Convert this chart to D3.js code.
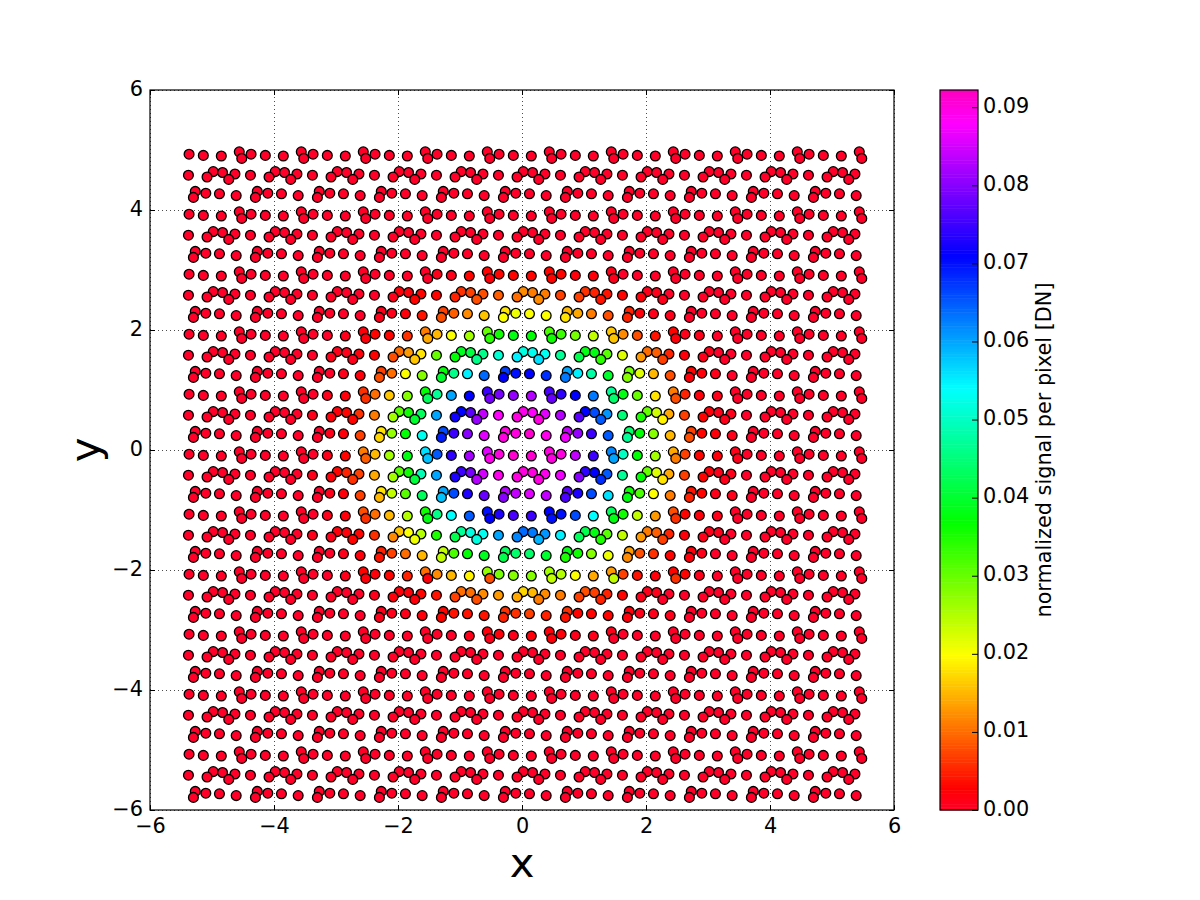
<!DOCTYPE html>
<html>
<head>
<meta charset="utf-8">
<script src="https://cdn.jsdelivr.net/npm/d3@7"></script>
<style>
body { margin: 0; background: #fff; }
text { font-family: "DejaVu Sans", sans-serif; fill: #000; }
</style>
</head>
<body>
<div id="root"></div>
<script>
// row heights, top to bottom (rows come in threes: A, B, C)
var rowY = [4.93,4.58,4.27,3.93,3.58,3.27,2.93,2.58,2.27,1.93,1.58,1.27,0.93,0.58,0.27,
	-0.07,-0.42,-0.73,-1.07,-1.42,-1.73,-2.07,-2.42,-2.73,-3.07,-3.42,-3.73,-4.07,-4.42,-4.73,
	-5.07,-5.42,-5.73];

var xA = [-5.37,-5.14,-4.85,-4.56,-4.52,-4.37,-4.14,-3.85,-3.56,-3.52,-3.37,-3.14,-2.85,-2.56,-2.52,
	-2.37,-2.14,-1.85,-1.56,-1.52,-1.37,-1.14,-0.85,-0.56,-0.52,-0.37,-0.14,0.15,0.44,0.48,
	0.63,0.86,1.15,1.44,1.48,1.63,1.86,2.15,2.44,2.48,2.63,2.86,3.15,3.44,3.48,
	3.63,3.86,4.15,4.44,4.48,4.63,4.86,5.15,5.44,5.48];
var xB = [-5.38,-5.08,-4.98,-4.83,-4.73,-4.63,-4.38,-4.08,-3.98,-3.83,-3.73,-3.63,
	-3.38,-3.08,-2.98,-2.83,-2.73,-2.63,-2.38,-2.08,-1.98,-1.83,-1.73,-1.63,
	-1.38,-1.08,-0.98,-0.83,-0.73,-0.63,-0.38,-0.08,0.02,0.17,0.27,0.37,
	0.62,0.92,1.02,1.17,1.27,1.37,1.62,1.92,2.02,2.17,2.27,2.37,
	2.62,2.92,3.02,3.17,3.27,3.37,3.62,3.92,4.02,4.17,4.27,4.37,
	4.62,4.92,5.02,5.17,5.27,5.37];
var xC = [-5.27,-5.30,-5.10,-4.88,-4.61,-4.27,-4.30,-4.10,-3.88,-3.61,-3.27,-3.30,-3.10,-2.88,-2.61,
	-2.27,-2.30,-2.10,-1.88,-1.61,-1.27,-1.30,-1.10,-0.88,-0.61,-0.27,-0.30,-0.10,0.12,0.39,
	0.73,0.70,0.90,1.12,1.39,1.73,1.70,1.90,2.12,2.39,2.73,2.70,2.90,3.12,3.39,
	3.73,3.70,3.90,4.12,4.39,4.73,4.70,4.90,5.12,5.39];

// how far each dot of a row sits above or below the row height
var dyA = [0,-0.02,-0.03,0.04,-0.07];
var dyB = [0,-0.03,0.06,0.045,-0.07,0.02];
var dyC = [0.04,-0.06,0.01,0,-0.03];

// signal in units of 0.001. Only rows 6 to 24 and
// the middle columns are listed, everything else is at 0
var firstSignalRow = 6;
var signalRows = [
	[0,0,0,0,0, 0,0,0,0,0, 1,1,3,3,2, 3,3,3,3,3, 3,2,2,1,1, 0,0,0,0,0, 0,0,0,0,0],
	[0,0,0,0,0,0, 0,1,2,2,3,3, 3,5,6,7,8,8, 9,10,12,11,12,11, 7,7,6,5,4,4, 3,2,1,1,1,0, 0,0,0,0,0,0],
	[0,0,0,0,0, 1,1,1,2,4, 7,8,9,12,16, 18,20,21,20,20, 15,18,14,11,8, 5,5,2,1,1, 0,0,0,0,0],
	[0,0,1,2,2, 3,3,6,11,14, 15,20,26,30,34, 36,38,37,32,36, 33,29,24,16,16, 12,8,4,3,2, 1,1,0,0,0],
	[0,1,1,1,1,2, 3,8,10,13,16,18, 30,37,39,41,46,46, 51,55,52,53,56,53, 47,42,38,38,34,31, 22,13,10,9,7,5, 2,1,1,0,0,0],
	[0,0,0,1,2, 7,8,10,20,28, 37,40,46,55,64, 67,71,70,71,68, 60,63,55,48,40, 29,28,22,15,8, 3,2,2,1,0],
	[0,1,2,6,6, 10,16,28,37,43, 47,60,71,75,79, 79,81,83,76,78, 74,71,63,47,44, 38,30,18,11,8, 5,2,1,0,0],
	[1,2,2,3,3,6, 11,26,31,36,40,43, 60,72,71,77,81,84, 88,90,89,88,90,86, 83,77,71,66,65,61, 45,35,30,23,19,14, 7,3,2,1,1,1],
	[0,0,1,2,7, 18,17,27,37,53, 66,69,75,80,86, 90,90,90,91,89, 84,87,81,75,65, 44,47,37,28,15, 7,8,3,2,1],
	[0,1,3,11,9, 15,26,38,56,58, 65,74,82,86,89, 90,91,91,90,90, 90,84,75,62,60, 50,37,26,14,11, 7,3,2,1,1],
	[1,2,3,5,6,7, 14,26,31,36,41,49, 60,73,75,79,83,85, 89,90,90,90,90,89, 87,80,74,71,68,65, 47,37,30,22,18,14, 7,3,2,1,1,1],
	[0,0,1,2,7, 18,15,24,31,43, 60,58,66,73,78, 83,80,84,86,84, 77,76,73,66,56, 36,38,32,20,11, 4,5,3,1,1],
	[0,1,2,8,6, 10,15,25,36,38, 46,54,65,70,71, 73,76,75,71,70, 70,66,54,43,38, 36,24,13,8,6, 3,2,1,0,0],
	[1,1,2,2,3,3, 6,12,16,20,21,25, 35,42,47,52,52,53, 60,62,64,63,59,61, 55,43,42,38,35,31, 24,13,11,9,7,5, 2,1,1,1,0,0],
	[0,0,0,1,2, 5,4,7,10,15, 24,24,32,37,39, 43,42,44,44,40, 38,35,36,28,21, 13,12,8,6,3, 2,2,1,0,0],
	[0,0,1,3,2, 2,3,5,10,2, 12,15,19,27,8, 29,28,28,26,24, 25,20,14,13,24, 7,4,2,3,6, 3,1,0,0,0],
	[0,0,0,0,0,0, 1,2,2,2,2,3, 4,7,10,10,8,12, 13,14,17,15,11,12, 11,7,8,7,5,5, 3,1,1,1,0,0, 0,0,0,0,0,0],
	[0,0,0,0,0, 1,1,1,1,2, 3,3,4,4,4, 6,5,6,7,5, 6,4,3,3,3, 2,2,1,1,1, 0,0,0,0,0],
	[0,0,0,0,0, 0,0,0,0,0, 0,0,1,2,1, 2,1,2,2,2, 2,1,1,1,0, 0,0,0,0,0, 0,0,0,0,0]
];
var firstSignalPeriod = 2;

// colour map stops (fraction of the range, colour)
var cmapPos = [0,0.03,0.215,0.4,0.586,0.77,0.954,1];
var cmapColors = ["#ff0029","#ff0000","#ffff00","#00ff00","#00ffff","#0000ff","#ff00ff","#ff00bf"];
var signalMax = 0.0922;

var xTicks = [-6,-4,-2,0,2,4,6];
var yTicks = [-6,-4,-2,0,2,4,6];
var barTicks = [0,0.01,0.02,0.03,0.04,0.05,0.06,0.07,0.08,0.09];

var svgWidth = 1200;
var svgHeight = 900;
const plot = { left: 150, right: 894, top: 90, bottom: 810 };
const bar = { left: 940, right: 978, top: 90, bottom: 810 };

var x = d3.scaleLinear().domain([-6,6]).range([plot.left, plot.right]);
var y = d3.scaleLinear().domain([-6,6]).range([plot.bottom, plot.top]);
var color = d3.scaleLinear()
	.domain(cmapPos.map(p => p * signalMax))
	.range(cmapColors);
var barY = d3.scaleLinear().domain([0, signalMax]).range([bar.bottom, bar.top]);

// put the rows together into dots
var rowXs = [xA, xB, xC];
var rowDys = [dyA, dyB, dyC];
var dots = [];
for (let r = 0; r < rowY.length; r++) {
	var xs = rowXs[r % 3];
	var dys = rowDys[r % 3];
	var signal = signalRows[r - firstSignalRow] || [];
	var skip = firstSignalPeriod * dys.length;
	for (let i = 0; i < xs.length; i++) {
		var v = signal[i - skip];
		dots.push({
			x: xs[i],
			y: rowY[r] + dys[i % dys.length],
			value: (v || 0) / 1000
		});
	}
}
// lower dots sit on top of the higher ones
dots.sort((a, b) => b.y - a.y);

var svg = d3.select("#root").append("svg")
	.attr("width", svgWidth)
	.attr("height", svgHeight);

// grid
svg.append("g")
	.attr("transform", `translate(0,${plot.bottom})`)
	.call(d3.axisBottom(x).tickValues(xTicks).tickSize(-(plot.bottom - plot.top)).tickFormat(""))
	.call(g => g.select(".domain").remove())
	.selectAll("line").attr("stroke", "#000").attr("stroke-width", 0.7).attr("stroke-dasharray", "1,3");
svg.append("g")
	.attr("transform", `translate(${plot.left},0)`)
	.call(d3.axisLeft(y).tickValues(yTicks).tickSize(-(plot.right - plot.left)).tickFormat(""))
	.call(g => g.select(".domain").remove())
	.selectAll("line").attr("stroke", "#000").attr("stroke-width", 0.7).attr("stroke-dasharray", "1,3");

// dots
svg.append("g").selectAll("circle")
	.data(dots)
	.enter()
	.append("circle")
	.attr("cx", d => x(d.x))
	.attr("cy", d => y(d.y))
	.attr("r", 4.9)
	.attr("fill", d => color(d.value))
	.attr("stroke", "#000")
	.attr("stroke-width", 1.3);

// axes, ticks point inwards on all four sides
function styleAxis(g) {
	g.select(".domain").remove();
	g.selectAll("line").attr("stroke", "#000").attr("stroke-width", 1);
	g.selectAll("text").attr("font-size", "20.8px");
}
svg.append("g").attr("transform", `translate(0,${plot.bottom})`)
	.call(d3.axisBottom(x).tickValues(xTicks).tickSize(-5).tickPadding(8)).call(styleAxis);
svg.append("g").attr("transform", `translate(${plot.left},0)`)
	.call(d3.axisLeft(y).tickValues(yTicks).tickSize(-5).tickPadding(7)).call(styleAxis)
	.selectAll("text").attr("dy", "0.28em");
svg.append("g").attr("transform", `translate(0,${plot.top})`)
	.call(d3.axisTop(x).tickValues(xTicks).tickSize(-5).tickFormat("")).call(styleAxis);
svg.append("g").attr("transform", `translate(${plot.right},0)`)
	.call(d3.axisRight(y).tickValues(yTicks).tickSize(-5).tickFormat("")).call(styleAxis);

svg.append("rect")
	.attr("x", plot.left).attr("y", plot.top)
	.attr("width", plot.right - plot.left).attr("height", plot.bottom - plot.top)
	.attr("fill", "none").attr("stroke", "#000").attr("stroke-width", 1.2);

svg.append("text")
	.attr("x", x(0)).attr("y", 877)
	.attr("text-anchor", "middle")
	.attr("font-size", "41.7px")
	.text("x");
svg.append("text")
	.attr("transform", `translate(99,${y(0)}) rotate(-90)`)
	.attr("text-anchor", "middle")
	.attr("font-size", "41.7px")
	.text("y");

// colour bar
var barSteps = d3.range(256);
svg.append("g").selectAll("rect")
	.data(barSteps)
	.enter()
	.append("rect")
	.attr("x", bar.left)
	.attr("y", d => barY((d + 1) / 256 * signalMax))
	.attr("width", bar.right - bar.left)
	.attr("height", (bar.bottom - bar.top) / 256 + 0.5)
	.attr("fill", d => color((d + 0.5) / 256 * signalMax));

svg.append("g").attr("transform", `translate(${bar.right},0)`)
	.call(d3.axisRight(barY).tickValues(barTicks).tickSize(-6).tickPadding(5).tickFormat(d3.format(".2f")))
	.call(styleAxis)
	.selectAll("text").attr("dy", "0.24em");

svg.append("rect")
	.attr("x", bar.left).attr("y", bar.top)
	.attr("width", bar.right - bar.left).attr("height", bar.bottom - bar.top)
	.attr("fill", "none").attr("stroke", "#000").attr("stroke-width", 1.2);

svg.append("text")
	.attr("transform", `translate(1051,450) rotate(-90)`)
	.attr("text-anchor", "middle")
	.attr("font-size", "20.8px")
	.text("normalized signal per pixel [DN]");
</script>
</body>
</html>
